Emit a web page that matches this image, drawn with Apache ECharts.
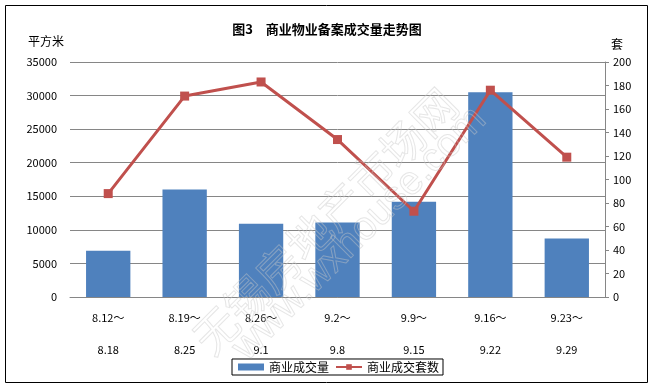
<!DOCTYPE html>
<html><head><meta charset="utf-8">
<script src="https://cdn.jsdelivr.net/npm/echarts@6/dist/echarts.min.js"></script>
<style>html,body{margin:0;padding:0;background:#fff}#c{width:654px;height:387px}</style>
</head><body><div id="c"></div>
<script>
const categories = ['8.12～\n\n8.18','8.19～\n\n8.25','8.26～\n\n9.1','9.2～\n\n9.8','9.9～\n\n9.15','9.16～\n\n9.22','9.23～\n\n9.29'];
const areaValues = [6900, 16000, 10900, 11100, 14200, 30500, 8700];
const unitValues = [88, 171, 183, 134, 73, 176, 119];
const leftTicks = [0, 35000, 5000];
const rightTicks = [0, 200, 20];

const font = '"Microsoft YaHei","Noto Sans CJK SC",sans-serif';
const chart = echarts.init(document.getElementById('c'));
chart.setOption({
  animation: false,
  title: {
    text: '图3　商业物业备案成交量走势图',
    left: 'center', top: 18,
    textStyle: {fontSize: 13, fontWeight: 'bold', color: '#000', fontFamily: font}
  },
  graphic: [
    {type: 'rect', shape: {x: 5.5, y: 5.5, width: 642, height: 377}, style: {fill: 'none', stroke: '#000', lineWidth: 1}, z: -1},
    {type: 'text', left: 28, top: 35, style: {text: '平方米', fontSize: 12, fill: '#000', fontFamily: font}},
    {type: 'text', left: 611, top: 38, style: {text: '套', fontSize: 12, fill: '#000', fontFamily: font}},
    {type: 'text', x: 185, y: 330, rotation: Math.PI / 4, z: 100,
     style: {text: '无锡房地产市场网', fontSize: 44, fill: 'rgba(255,255,255,0)', stroke: 'rgba(200,200,200,0.45)', lineWidth: 1, fontFamily: font}},
    {type: 'text', x: 225, y: 340, rotation: Math.PI / 4, z: 100,
     style: {text: 'www.wxhouse.com', fontSize: 40, fill: 'rgba(255,255,255,0)', stroke: 'rgba(200,200,200,0.45)', lineWidth: 1, fontFamily: 'Arial, sans-serif'}}
  ],
  legend: {
    bottom: 12, left: 232,
    borderColor: '#000', borderWidth: 1, padding: [2, 4, 2, 6],
    itemGap: 6, itemWidth: 26, itemHeight: 7,
    textStyle: {fontSize: 12, color: '#000', fontFamily: font},
    data: [
      {name: '商业成交量', icon: 'rect'},
      {name: '商业成交套数'}
    ]
  },
  grid: {left: 70, right: 49, top: 62, bottom: 90},
  xAxis: {
    type: 'category', data: categories,
    axisLine: {show: true, lineStyle: {color: '#868686'}},
    axisTick: {show: false},
    axisLabel: {fontSize: 11, color: '#000', lineHeight: 16, margin: 13, fontFamily: font}
  },
  yAxis: [
    {type: 'value', min: leftTicks[0], max: leftTicks[1], interval: leftTicks[2],
     axisLine: {show: false}, axisTick: {show: false},
     axisLabel: {fontSize: 11, color: '#000', margin: 13, fontFamily: font, formatter: v => String(v)},
     splitLine: {lineStyle: {color: '#868686'}}},
    {type: 'value', min: rightTicks[0], max: rightTicks[1], interval: rightTicks[2], position: 'right',
     axisLine: {show: true, lineStyle: {color: '#868686'}},
     axisTick: {show: true, length: 4, lineStyle: {color: '#868686'}},
     axisLabel: {fontSize: 11, color: '#000', margin: 8, fontFamily: font, formatter: v => String(v)},
     splitLine: {show: false}}
  ],
  series: [
    {name: '商业成交量', type: 'bar', data: areaValues, barWidth: '58%',
     itemStyle: {color: '#4F81BD'}},
    {name: '商业成交套数', type: 'line', yAxisIndex: 1, data: unitValues,
     symbol: 'rect', symbolSize: 9,
     lineStyle: {color: '#C0504D', width: 3},
     itemStyle: {color: '#C0504D'}}
  ]
});
</script></body></html>
